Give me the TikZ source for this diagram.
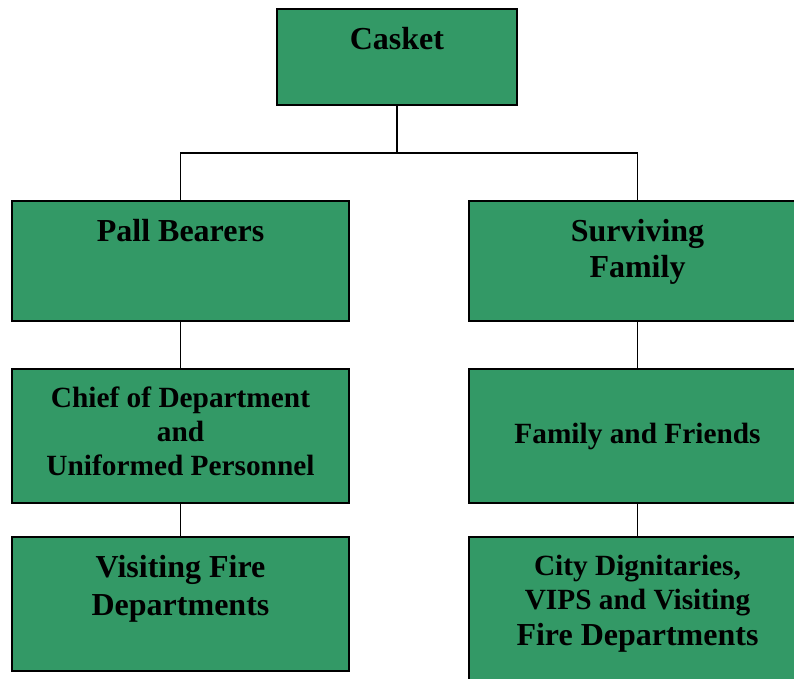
\documentclass[tikz,border=0pt]{standalone}
\usepackage{fontspec}
\setmainfont{Liberation Serif}
\definecolor{boxgreen}{HTML}{339966}

\begin{document}
\begin{tikzpicture}[x=0.75pt,y=-0.75pt]
\tikzstyle{every node}+=[inner sep=0pt]
\tikzstyle{box}=[draw=black, line width=1.5pt, fill=boxgreen, rectangle, minimum width=252.75pt]
\tikzstyle{txt}=[anchor=north, align=center, font=\bfseries\fontsize{24}{27}\selectfont]
\tikzstyle{link}=[black, line width=1.1pt]
\useasboundingbox (0,0) rectangle (794,679);
\clip (0,0) rectangle (794,679);
\node [box, minimum width=180pt, minimum height=72pt] (casket) at (397,57) {};
\node [box, minimum height=90pt] (pall) at (180.5,261) {};
\node [box, minimum height=90pt] (surviving) at (637.5,261) {};
\node [box, minimum height=100.5pt] (chief) at (180.5,436) {};
\node [box, minimum height=100.5pt, font=\bfseries\fontsize{22}{25}\selectfont] (friends) at (637.5,436) {Family and Friends};
\node [box, minimum height=100.5pt] (visiting) at (180.5,604) {};
\node [box, minimum height=120pt] (city) at (637.5,617) {};
\node [txt, yshift=-14.5pt] (casketT) at (casket.north) {Casket};
\node [txt, yshift=-14.5pt] (pallT) at (pall.north) {Pall Bearers};
\node [txt, yshift=-14.5pt] (survivingT) at (surviving.north) {Surviving\\Family};
\node [txt, yshift=-14pt, font=\bfseries\fontsize{22}{25.5}\selectfont] (chiefT) at (chief.north) {Chief of Department\\and\\Uniformed Personnel};
\node [txt, yshift=-14pt, font=\bfseries\fontsize{24}{28.5}\selectfont] (visitingT) at (visiting.north) {Visiting Fire\\Departments};
\node [txt, yshift=-14pt, font=\bfseries\fontsize{22}{25.5}\selectfont] (cityT) at (city.north) {City Dignitaries,\\VIPS and Visiting\\[2pt]{\fontsize{24}{27}\selectfont Fire Departments}};
\coordinate (split) at (397,153);
\draw [link] (casket.south) -- (split);
\draw [link] (pall.north) |- (split) -| (surviving.north);
\draw [link] (pall.south) -- (chief.north);
\draw [link] (chief.south) -- (visiting.north);
\draw [link] (surviving.south) -- (friends.north);
\draw [link] (friends.south) -- (city.north);
\end{tikzpicture}
\end{document}
